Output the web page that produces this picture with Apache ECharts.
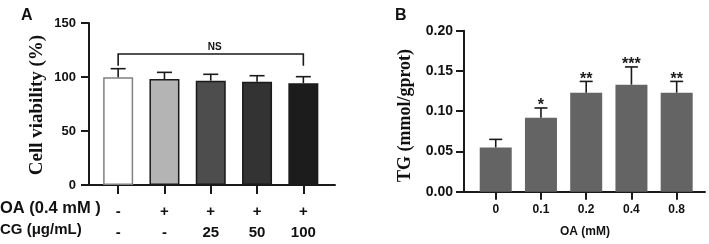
<!DOCTYPE html>
<html>
<head>
<meta charset="utf-8">
<script src="https://cdn.jsdelivr.net/npm/echarts@6/dist/echarts.min.js"></script>
<style>
  html, body { margin: 0; padding: 0; background: #fff; }
  #main { width: 709px; height: 244px; }
</style>
</head>
<body>
<div id="main"></div>
<script>
var chart = echarts.init(document.getElementById('main'));

// panel A: cell viability
var oaRow = ['-', '+', '+', '+', '+'];
var cgRow = ['-', '-', '25', '50', '100'];
var viability = [99.7, 98.1, 96.6, 95.7, 94.2];
var viabilityTop = [107.7, 104.3, 102.5, 101.2, 100.3];
var viabilityFill = ['#ffffff', '#b4b4b4', '#4d4d4d', '#333333', '#1c1c1c'];
var viabilityBorder = ['#808080', '#1a1a1a', '#1a1a1a', '#1a1a1a', '#1a1a1a'];
var nsBracket = [[0, 4, 121.3, 110.5]];   // from cat, to cat, bracket level, drop end

// panel B: TG
var oaDose = ['0', '0.1', '0.2', '0.4', '0.8'];
var tg = [0.055, 0.092, 0.123, 0.133, 0.123];
var tgTop = [0.065, 0.104, 0.137, 0.155, 0.137];
var tgStars = ['', '*', '**', '***', '**'];

var FONT = '"Liberation Sans", Arial, sans-serif';
var SERIF = '"Liberation Serif", "Times New Roman", serif';
var AXIS = '#1a1a1a';

function errorBars(capW, stars) {
    return function (params, api) {
        var i = api.value(0);
        var base = api.coord([i, api.value(1)]);
        var top = api.coord([i, api.value(2)]);
        var kids = [
            { type: 'line', shape: { x1: base[0], y1: base[1], x2: top[0], y2: top[1] },
              style: { stroke: AXIS, lineWidth: 1.6 } },
            { type: 'line', shape: { x1: top[0] - capW / 2, y1: top[1], x2: top[0] + capW / 2, y2: top[1] },
              style: { stroke: AXIS, lineWidth: 1.6 } }
        ];
        if (stars && stars[params.dataIndex]) {
            kids.push({ type: 'text', x: top[0], y: top[1] + 6,
                style: { text: stars[params.dataIndex], fill: AXIS, font: 'bold 16px ' + FONT,
                         align: 'center', verticalAlign: 'bottom' } });
        }
        return { type: 'group', children: kids };
    };
}

function zip(a, b) {
    return a.map(function (v, i) { return [i, v, b[i]]; });
}

option = {
    animation: false,
    grid: [
        { left: 89, right: 374, top: 23, bottom: 59 },     // frame A
        { left: 95, width: 231.5, top: 23, bottom: 59 },   // bars A
        { left: 464, right: 4, top: 30.7, bottom: 52.3 },  // frame B
        { left: 473.1, width: 226.2, top: 30.7, bottom: 52.3 } // bars B
    ],
    xAxis: [
        { gridIndex: 0, type: 'value', min: 0, max: 1,
          axisLine: { show: true, lineStyle: { color: AXIS, width: 2 } },
          axisTick: { show: false }, axisLabel: { show: false }, splitLine: { show: false } },
        { gridIndex: 1, type: 'category', data: oaRow,
          axisLine: { show: false },
          axisTick: { show: true, inside: false, length: 9, alignWithLabel: true,
                      lineStyle: { color: AXIS, width: 2 } },
          axisLabel: {
              margin: 16, lineHeight: 21, color: '#111', fontFamily: FONT, fontWeight: 'bold', fontSize: 15,
              formatter: function (v, i) { return oaRow[i] + '\n' + cgRow[i]; }
          } },
        { gridIndex: 2, type: 'value', min: 0, max: 1,
          axisLine: { show: true, lineStyle: { color: AXIS, width: 2 } },
          axisTick: { show: false }, axisLabel: { show: false }, splitLine: { show: false } },
        { gridIndex: 3, type: 'category', data: oaDose,
          axisLine: { show: false },
          axisTick: { show: true, length: 8, alignWithLabel: true, lineStyle: { color: AXIS, width: 2 } },
          axisLabel: { margin: 12, color: '#111', fontFamily: FONT, fontWeight: 'bold', fontSize: 12 } }
    ],
    yAxis: [
        { gridIndex: 0, type: 'value', min: 0, max: 150, interval: 50,
          axisLine: { show: true, lineStyle: { color: AXIS, width: 2 } },
          axisTick: { show: true, length: 8, lineStyle: { color: AXIS, width: 2 } },
          axisLabel: { margin: 13, color: '#111', fontFamily: FONT, fontWeight: 'bold', fontSize: 13 },
          splitLine: { show: false } },
        { gridIndex: 1, type: 'value', min: 0, max: 150, show: false, splitLine: { show: false } },
        { gridIndex: 2, type: 'value', min: 0, max: 0.2, interval: 0.05,
          axisLine: { show: true, lineStyle: { color: AXIS, width: 2 } },
          axisTick: { show: true, length: 8, lineStyle: { color: AXIS, width: 2 } },
          axisLabel: { margin: 11, color: '#111', fontFamily: FONT, fontWeight: 'bold', fontSize: 14,
                       formatter: function (v) { return v.toFixed(2); } },
          splitLine: { show: false } },
        { gridIndex: 3, type: 'value', min: 0, max: 0.2, show: false, splitLine: { show: false } }
    ],
    graphic: [
        { type: 'text', x: 21, y: 15.5, style: { text: 'A', font: 'bold 16px ' + FONT, fill: '#111', verticalAlign: 'middle' } },
        { type: 'text', x: 395, y: 15.5, style: { text: 'B', font: 'bold 16px ' + FONT, fill: '#111', verticalAlign: 'middle' } },
        { type: 'text', x: 37.5, y: 105, rotation: Math.PI / 2,
          style: { text: 'Cell viability (%)', font: 'bold 19px ' + SERIF, fill: '#111', align: 'center', verticalAlign: 'middle' } },
        { type: 'text', x: 405.5, y: 115.5, rotation: Math.PI / 2,
          style: { text: 'TG (mmol/gprot)', font: 'bold 18px ' + SERIF, fill: '#111', align: 'center', verticalAlign: 'middle' } },
        { type: 'text', x: 0, y: 208.5, style: { text: 'OA (0.4 mM )', font: 'bold 16.5px ' + FONT, fill: '#111', verticalAlign: 'middle' } },
        { type: 'text', x: 0, y: 230, style: { text: 'CG (\u03bcg/mL)', font: 'bold 15px ' + FONT, fill: '#111', verticalAlign: 'middle' } },
        { type: 'text', x: 585, y: 231.5, style: { text: 'OA (mM)', font: 'bold 12px ' + FONT, fill: '#111', align: 'center', verticalAlign: 'middle' } }
    ],
    series: [
        {
            name: 'viability', type: 'bar', xAxisIndex: 1, yAxisIndex: 1, barWidth: 30,
            data: viability.map(function (v, i) {
                return { value: v, itemStyle: { color: viabilityFill[i], borderColor: viabilityBorder[i], borderWidth: 1.5 } };
            })
        },
        {
            type: 'custom', xAxisIndex: 1, yAxisIndex: 1, z: 3,
            encode: { x: 0, y: [1, 2] },
            renderItem: errorBars(15, null),
            data: zip(viability, viabilityTop)
        },
        {
            type: 'custom', xAxisIndex: 1, yAxisIndex: 1, z: 3,
            encode: { x: [0, 1], y: [2, 3] },
            renderItem: function (params, api) {
                var a = api.coord([api.value(0), api.value(2)]);
                var b = api.coord([api.value(1), api.value(2)]);
                var drop = api.coord([api.value(1), api.value(3)]);
                return { type: 'group', children: [
                    { type: 'polyline', shape: { points: [[a[0], drop[1]], a, b, drop] },
                      style: { stroke: AXIS, lineWidth: 1.6, fill: null } },
                    { type: 'text', x: (a[0] + b[0]) / 2 + 4, y: a[1] - 2,
                      style: { text: 'NS', font: 'bold 10px ' + FONT, fill: '#111', align: 'center', verticalAlign: 'bottom' } }
                ] };
            },
            data: nsBracket
        },
        {
            name: 'TG', type: 'bar', xAxisIndex: 3, yAxisIndex: 3, barWidth: 32,
            itemStyle: { color: '#646464' },
            data: tg
        },
        {
            type: 'custom', xAxisIndex: 3, yAxisIndex: 3, z: 3,
            encode: { x: 0, y: [1, 2] },
            renderItem: errorBars(13, tgStars),
            data: zip(tg, tgTop)
        }
    ]
};

chart.setOption(option);
</script>
</body>
</html>
